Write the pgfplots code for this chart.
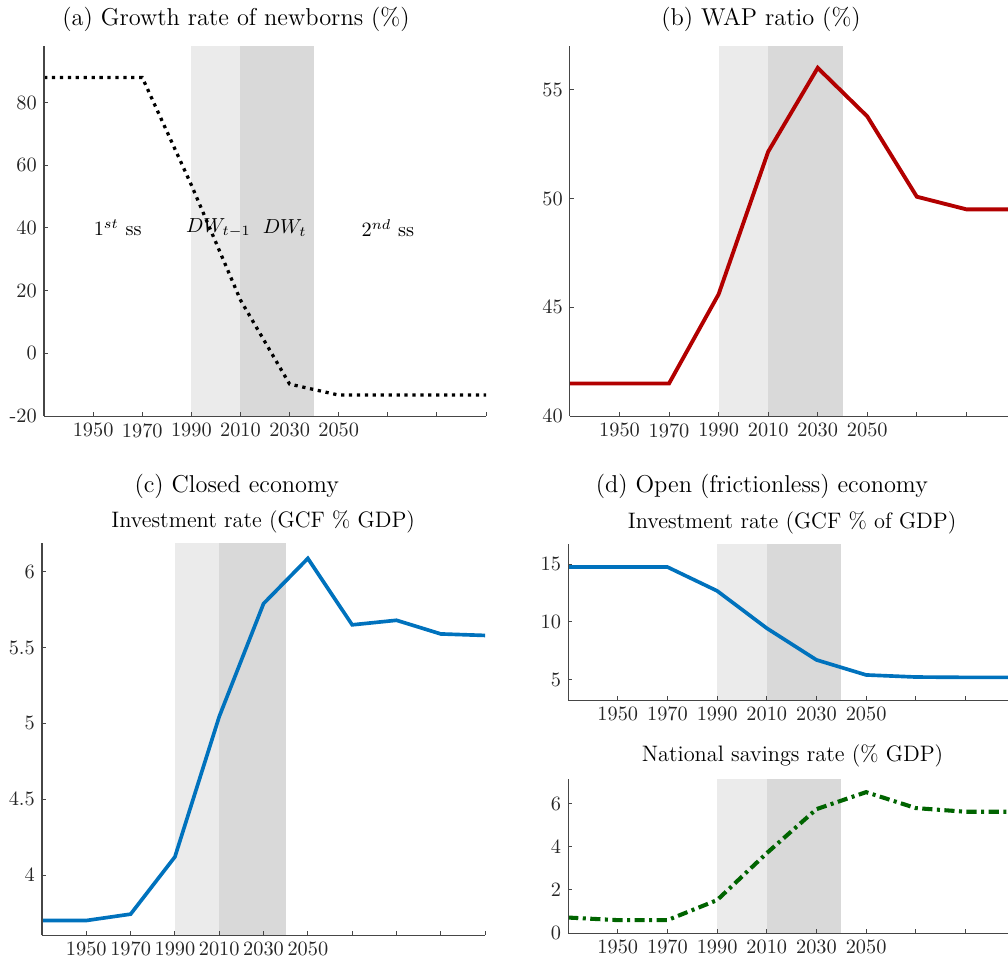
\documentclass[border=0pt]{standalone}
\usepackage{pgfplots}
\pgfplotsset{compat=1.18}
\definecolor{axgray}{RGB}{70,70,70}
\definecolor{txtgray}{RGB}{38,38,38}
\definecolor{lightsh}{RGB}{235,235,235}
\definecolor{darksh}{RGB}{217,217,217}
\definecolor{wapred}{RGB}{178,0,0}
\definecolor{mblue}{RGB}{0,114,189}
\definecolor{sgreen}{RGB}{0,100,0}
\pgfplotsset{
  panel/.style={
    scale only axis, anchor=south west,
    axis x line*=bottom, axis y line*=left,
    axis line style={axgray, line width=0.5pt},
    axis on top,
    tick align=inside, major tick length=2pt,
    tick style={axgray, line width=0.5pt},
    xmin=1930, xtick={1950,1970,...,2130},
    xticklabels={1950,1970,1990,2010,2030,2050,,,,},
    ticklabel style={font=\normalsize, text=txtgray},
  },
}
\begin{document}
\begin{tikzpicture}
\useasboundingbox (0,0) rectangle (495.9pt,473.8pt);
% (a)
\begin{axis}[panel, at={(21.65pt,269.1pt)}, width=217.5pt, height=182.0pt,
  xmax=2110, ymin=-20, ymax=98,
  ytick={-20,0,20,40,60,80}, yticklabels={-20,0,20,40,60,80}]
\addplot[draw=none, fill=lightsh] coordinates {(1990,-20) (2010,-20) (2010,98) (1990,98)} -- cycle;
\addplot[draw=none, fill=darksh] coordinates {(2010,-20) (2040,-20) (2040,98) (2010,98)} -- cycle;
\addplot[black, line width=1.6pt, dash pattern=on 1.6pt off 2.3pt] coordinates {
(1930,88) (1950,88) (1970,88) (1990,53.7) (2010,17) (2030,-9.8) (2050,-13.3) (2070,-13.3) (2090,-13.3) (2110,-13.3)};
\node at (axis cs:1960,40) {$1^{st}$ ss};
\node at (axis cs:2001,40) {$DW_{t-1}$};
\node at (axis cs:2028,40) {$DW_{t}$};
\node at (axis cs:2070,40) {$2^{nd}$ ss};
\end{axis}
% (b)
\begin{axis}[panel, at={(280.4pt,269.1pt)}, width=219.4pt, height=182.0pt,
  xmax=2110, ymin=40, ymax=57, ytick={40,45,50,55}]
\addplot[draw=none, fill=lightsh] coordinates {(1990,40) (2010,40) (2010,57) (1990,57)} -- cycle;
\addplot[draw=none, fill=darksh] coordinates {(2010,40) (2040,40) (2040,57) (2010,57)} -- cycle;
\addplot[wapred, line width=1.9pt] coordinates {
(1930,41.5) (1950,41.5) (1970,41.5) (1990,45.6) (2010,52.15) (2030,56.0) (2050,53.77) (2070,50.08) (2090,49.5) (2110,49.5)};
\end{axis}
% (c)
\begin{axis}[panel, at={(20.66pt,13.78pt)}, width=218pt, height=192.9pt,
  xmax=2130, ymin=3.604, ymax=6.19, ytick={4,4.5,5,5.5,6}, yticklabels={4,4.5,5,5.5,6}]
\addplot[draw=none, fill=lightsh] coordinates {(1990,3.604) (2010,3.604) (2010,6.19) (1990,6.19)} -- cycle;
\addplot[draw=none, fill=darksh] coordinates {(2010,3.604) (2040,3.604) (2040,6.19) (2010,6.19)} -- cycle;
\addplot[mblue, line width=1.8pt] coordinates {
(1930,3.70) (1950,3.70) (1970,3.742) (1990,4.12) (2010,5.045) (2030,5.79) (2050,6.088) (2070,5.65) (2090,5.68) (2110,5.59) (2130,5.58)};
\end{axis}
% (d) top
\begin{axis}[panel, at={(279.5pt,129.4pt)}, width=219.9pt, height=76.75pt,
  xmax=2110, ymin=3.24, ymax=16.73, ytick={5,10,15}]
\addplot[draw=none, fill=lightsh] coordinates {(1990,3.24) (2010,3.24) (2010,16.73) (1990,16.73)} -- cycle;
\addplot[draw=none, fill=darksh] coordinates {(2010,3.24) (2040,3.24) (2040,16.73) (2010,16.73)} -- cycle;
\addplot[mblue, line width=1.8pt] coordinates {
(1930,14.74) (1950,14.74) (1970,14.74) (1990,12.68) (2010,9.45) (2030,6.71) (2050,5.41) (2070,5.23) (2090,5.2) (2110,5.2)};
\end{axis}
% (d) bottom
\begin{axis}[panel, at={(279.5pt,14.76pt)}, width=219.9pt, height=75.8pt,
  xmax=2110, ymin=0, ymax=7.15, ytick={0,2,4,6}]
\addplot[draw=none, fill=lightsh] coordinates {(1990,0) (2010,0) (2010,7.15) (1990,7.15)} -- cycle;
\addplot[draw=none, fill=darksh] coordinates {(2010,0) (2040,0) (2040,7.15) (2010,7.15)} -- cycle;
\addplot[sgreen, line width=2pt, dash pattern=on 5pt off 2.2pt on 1.5pt off 2.2pt] coordinates {
(1930,0.72) (1950,0.6) (1970,0.6) (1990,1.53) (2010,3.71) (2030,5.75) (2050,6.54) (2070,5.80) (2090,5.63) (2110,5.63)};
\end{axis}
% titles
\node[font=\large, text=black] at (116.1pt,464pt) {(a) Growth rate of newborns (\%)};
\node[font=\large, text=black] at (374.4pt,464pt) {(b) WAP ratio (\%)};
\node[font=\large, text=black] at (116.5pt,234.3pt) {(c) Closed economy};
\node[font=\fontsize{11}{13}\selectfont, text=black] at (129.5pt,217.1pt) {Investment rate (GCF \% GDP)};
\node[font=\large, text=black] at (374.8pt,234.3pt) {(d) Open (frictionless) economy};
\node[font=\fontsize{11}{13}\selectfont, text=black] at (389.7pt,216.6pt) {Investment rate (GCF \% of GDP)};
\node[font=\fontsize{11}{13}\selectfont, text=black] at (389.9pt,101.8pt) {National savings rate (\% GDP)};
\end{tikzpicture}
\end{document}
